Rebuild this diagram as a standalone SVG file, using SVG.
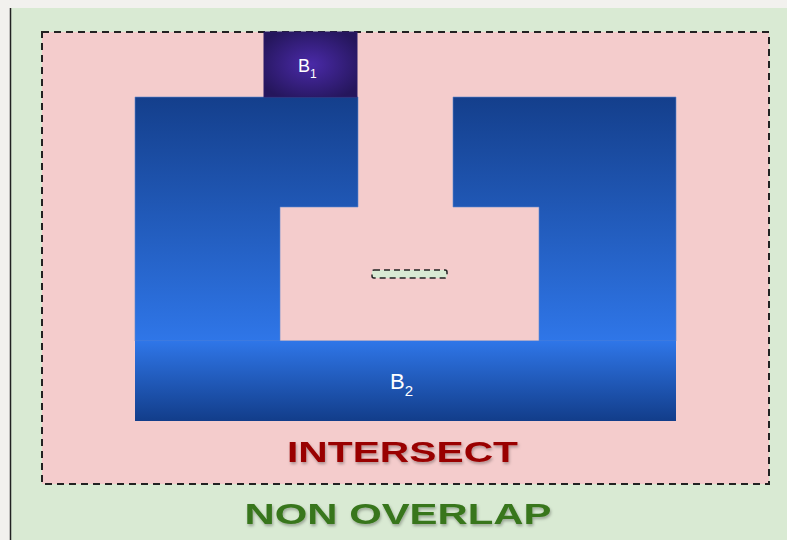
<svg xmlns="http://www.w3.org/2000/svg" width="787" height="540" viewBox="0 0 787 540">
<defs>
<radialGradient id="gB1" cx="0.5" cy="0.5" r="0.6">
<stop offset="0" stop-color="#4a2aa8"/>
<stop offset="1" stop-color="#25165c"/>
</radialGradient>
<linearGradient id="gTop" x1="0" y1="97" x2="0" y2="341" gradientUnits="userSpaceOnUse">
<stop offset="0" stop-color="#143f8c"/>
<stop offset="1" stop-color="#2f76e8"/>
</linearGradient>
<linearGradient id="gBot" x1="0" y1="341" x2="0" y2="421" gradientUnits="userSpaceOnUse">
<stop offset="0" stop-color="#2f76e8"/>
<stop offset="1" stop-color="#123d8a"/>
</linearGradient>
<filter id="sh" x="-10%" y="-30%" width="120%" height="160%">
<feDropShadow dx="1" dy="2" stdDeviation="1.5" flood-color="#000" flood-opacity="0.3"/>
</filter>
</defs>
<style>
.dash{fill:none;stroke:#222;stroke-width:2;stroke-dasharray:7,5}
.lbl{font-family:"Liberation Sans",Arial,sans-serif;fill:#fff}
.big{font-family:"Liberation Sans",Arial,sans-serif;font-weight:bold;font-size:30px}
</style>
<rect x="0" y="0" width="787" height="540" fill="#f2f1ee"/>
<g id="non-overlap">
<rect x="10" y="8" width="777" height="532" fill="#d9ead3"/>
<line x1="10.5" y1="8" x2="10.5" y2="540" stroke="#222" stroke-width="1.5"/>
<text class="big" x="398" y="524" text-anchor="middle" fill="#38761d" textLength="307" lengthAdjust="spacingAndGlyphs" filter="url(#sh)">NON OVERLAP</text>
</g>
<g id="intersect">
<rect x="42" y="32" width="727" height="452" fill="#f4cccc"/>
<rect class="dash" x="42" y="32" width="727" height="452"/>
<text class="big" x="402.5" y="462" text-anchor="middle" fill="#990000" textLength="231" lengthAdjust="spacingAndGlyphs" filter="url(#sh)">INTERSECT</text>
</g>
<g id="B2">
<path d="M135,97 H358 V207 H280 V341 H539 V207 H453 V97 H676 V341 H135 Z" fill="url(#gTop)" stroke="#5f86cc" stroke-width="0.6"/>
<rect x="135" y="341" width="541" height="80" fill="url(#gBot)"/>
<text class="lbl" x="390" y="389" font-size="22">B<tspan font-size="15" dy="7">2</tspan></text>
</g>
<g id="B1">
<rect x="264" y="32" width="93" height="65" fill="url(#gB1)" stroke="#2a1a66" stroke-width="1"/>
<text class="lbl" x="298" y="72" font-size="18">B<tspan font-size="12" dy="6">1</tspan></text>
</g>
<g id="gap">
<rect x="372" y="270" width="75" height="8" rx="2" fill="#d9ead3" stroke="#222" stroke-width="1.5" stroke-dasharray="6,4"/>
</g>
</svg>
